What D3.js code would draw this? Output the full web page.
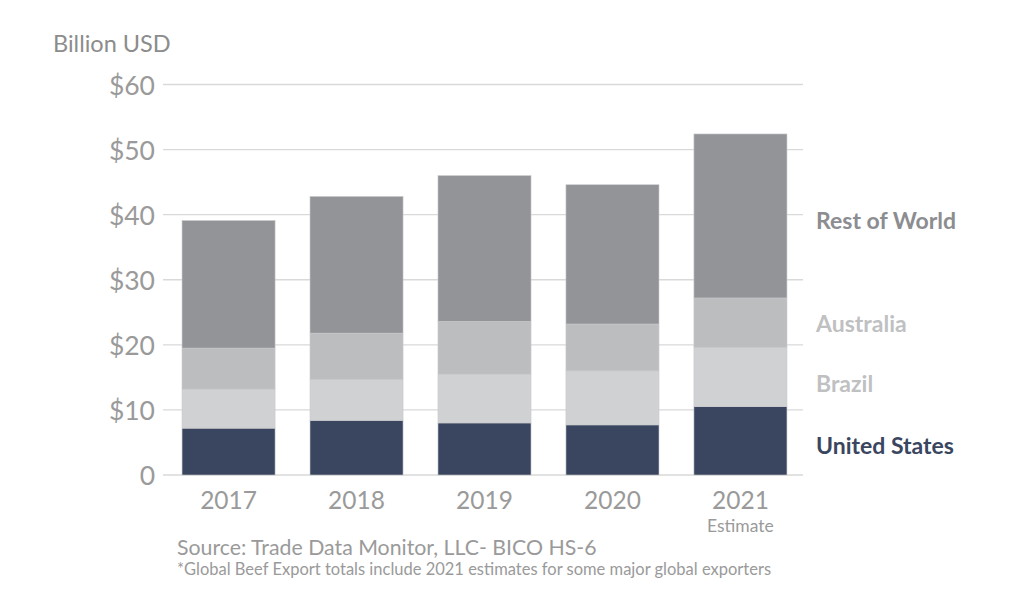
<!DOCTYPE html>
<html>
<head>
<meta charset="utf-8">
<script src="https://cdn.jsdelivr.net/npm/d3@7"></script>
<style>
  body { margin: 0; background: #fff; }
  text { font-family: Lato, "Open Sans", sans-serif; }
</style>
</head>
<body>
<div id="chart"></div>
<script>
const years = ["2017", "2018", "2019", "2020", "2021"];
const series = ["United States", "Brazil", "Australia", "Rest of World"];
const unitedStates = [7.2, 8.4, 8.0, 7.7, 10.5];
const brazil = [6.0, 6.3, 7.5, 8.3, 9.1];
const australia = [6.3, 7.1, 8.1, 7.2, 7.6];
const restOfWorld = [19.6, 21.0, 22.4, 21.4, 25.2];
const yTicks = [0, 10, 20, 30, 40, 50, 60];

const colors = ["#3a4660", "#d0d1d3", "#bcbdbf", "#939498"];
const labelColors = ["#3a4660", "#bfc0c2", "#bfc0c2", "#8c8d91"];
// small nudges so the labels sit where the original placed them
const labelShift = [5, 7, 1, 5];

const width = 1009, height = 606;
const margin = { top: 84.5, right: 206, bottom: 131, left: 163 };

const rows = years.map((y, i) => ({
  year: y,
  "United States": unitedStates[i],
  "Brazil": brazil[i],
  "Australia": australia[i],
  "Rest of World": restOfWorld[i]
}));

const stacked = d3.stack().keys(series)(rows);

const x = d3.scaleBand()
  .domain(years)
  .range([margin.left + 1.5, width - margin.right + 1.5])
  .paddingInner(0.273)
  .paddingOuter(0.137);

const y = d3.scaleLinear()
  .domain([0, 60])
  .range([height - margin.bottom, margin.top]);

const svg = d3.select("#chart").append("svg")
  .attr("width", width)
  .attr("height", height);

// gridlines
svg.append("g")
  .selectAll("line")
  .data(yTicks)
  .join("line")
  .attr("x1", margin.left)
  .attr("x2", width - margin.right)
  .attr("y1", d => y(d))
  .attr("y2", d => y(d))
  .attr("stroke", "#d9d9d9")
  .attr("stroke-width", 1.3);

// y axis labels
const yAxis = svg.append("g")
  .attr("transform", `translate(${margin.left - 8},0)`)
  .call(d3.axisLeft(y).tickValues(yTicks).tickSize(0).tickPadding(0)
    .tickFormat(d => d === 0 ? "0" : "$" + d));
yAxis.select(".domain").remove();
yAxis.selectAll("text")
  .attr("font-size", 26.5)
  .attr("fill", "#9a9a9a")
  .attr("dy", "0.36em")
  .style("font-family", "Lato, sans-serif");

svg.append("text")
  .attr("x", 53)
  .attr("y", 52)
  .attr("font-size", 23.5)
  .attr("fill", "#8c8c8c")
  .text("Billion USD");

// bars
svg.append("g")
  .selectAll("g")
  .data(stacked)
  .join("g")
  .attr("fill", (d, i) => colors[i])
  .selectAll("rect")
  .data(d => d)
  .join("rect")
  .attr("x", d => x(d.data.year))
  .attr("width", x.bandwidth())
  .attr("y", d => y(d[1]))
  .attr("height", d => y(d[0]) - y(d[1]))
  .attr("stroke", "#c8c9cc")
  .attr("stroke-width", 0.6);

// x axis labels
const xAxis = svg.append("g")
  .attr("transform", `translate(0,${height - margin.bottom})`)
  .call(d3.axisBottom(x).tickSize(0).tickPadding(17));
xAxis.select(".domain").remove();
xAxis.selectAll("text")
  .attr("font-size", 24.5)
  .attr("fill", "#9a9a9a")
  .style("font-family", "Lato, sans-serif");

svg.append("text")
  .attr("x", x("2021") + x.bandwidth() / 2)
  .attr("y", 532)
  .attr("text-anchor", "middle")
  .attr("font-size", 17.5)
  .attr("fill", "#9a9a9a")
  .text("Estimate");

// series labels next to last bar
const last = years.length - 1;
svg.append("g")
  .selectAll("text")
  .data(stacked)
  .join("text")
  .attr("x", 816)
  .attr("y", (d, i) => y((d[last][0] + d[last][1]) / 2) + labelShift[i])
  .attr("dy", "0.35em")
  .attr("font-size", 23)
  .attr("font-weight", "bold")
  .attr("fill", (d, i) => labelColors[i])
  .text(d => d.key);

svg.append("text")
  .attr("x", 177)
  .attr("y", 555)
  .attr("font-size", 21.3)
  .attr("fill", "#9a9a9a")
  .text("Source: Trade Data Monitor, LLC- BICO HS-6");

svg.append("text")
  .attr("x", 177)
  .attr("y", 575)
  .attr("font-size", 16.5)
  .attr("fill", "#9a9a9a")
  .text("*Global Beef Export totals include 2021 estimates for some major global exporters");
</script>
</body>
</html>
